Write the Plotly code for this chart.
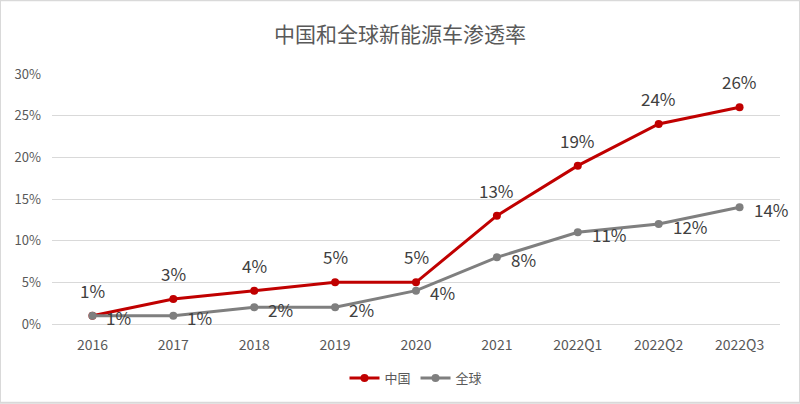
import plotly.graph_objects as go

categories = ["2016", "2017", "2018", "2019", "2020", "2021", "2022Q1", "2022Q2", "2022Q3"]
china = [0.01, 0.03, 0.04, 0.05, 0.05, 0.13, 0.19, 0.24, 0.26]
world = [0.01, 0.01, 0.02, 0.02, 0.04, 0.08, 0.11, 0.12, 0.14]
tick_vals = [0, 0.05, 0.10, 0.15, 0.20, 0.25, 0.30]
tick_text = ["0%", "5%", "10%", "15%", "20%", "25%", "30%"]

font_family = "Microsoft YaHei, Noto Sans CJK SC, sans-serif"
label_color = "#404040"

fig = go.Figure()
fig.add_trace(go.Scatter(
    x=categories, y=china, name="中国", mode="lines+markers",
    line=dict(color="#C00000", width=3), marker=dict(size=8, color="#C00000"),
    cliponaxis=False,
))
fig.add_trace(go.Scatter(
    x=categories, y=world, name="全球", mode="lines+markers",
    line=dict(color="#7F7F7F", width=3), marker=dict(size=8, color="#7F7F7F"),
    cliponaxis=False,
))

annotations = []
# category axis position = index of the category
for i, v in enumerate(china):
    annotations.append(dict(x=i, y=v, xref="x", yref="y", text=f"{round(v*100)}%",
                            showarrow=False, xanchor="center", yanchor="bottom", yshift=11,
                            font=dict(size=17, color=label_color, family=font_family)))
for i, v in enumerate(world):
    annotations.append(dict(x=i, y=v, xref="x", yref="y", text=f"{round(v*100)}%",
                            showarrow=False, xanchor="left", yanchor="middle", xshift=12, yshift=-2,
                            font=dict(size=17, color=label_color, family=font_family)))

fig.update_layout(
    width=800, height=404,
    paper_bgcolor="white", plot_bgcolor="white",
    margin=dict(l=52, r=20, t=74, b=79),
    title=dict(text="中国和全球新能源车渗透率", x=0.5, xanchor="center", y=0.915, yanchor="middle",
               font=dict(size=21, color="#595959", family=font_family)),
    font=dict(family=font_family, color="#595959"),
    showlegend=True,
    legend=dict(orientation="h", x=0.5, xanchor="center", y=-0.211, yanchor="middle",
                font=dict(size=13, color="#595959")),
    xaxis=dict(type="category", range=[-0.5, 8.5], showgrid=False, showline=True,
               linecolor="#D9D9D9", ticks="", tickfont=dict(size=14, color="#595959"),
               ticklabelstandoff=8),
    yaxis=dict(range=[0, 0.30], tickvals=tick_vals, ticktext=tick_text, showgrid=True,
               gridcolor="#D9D9D9", zeroline=False, showline=False, ticks="",
               tickfont=dict(size=13, color="#595959"), ticklabelstandoff=10),
    annotations=annotations,
    shapes=[dict(type="rect", xref="paper", yref="paper",
                 x0=-52/728, x1=1+20/728, y0=-79/251, y1=1+74/251,
                 line=dict(color="#D9D9D9", width=2))],
)

fig.write_html("out.html", config={"displayModeBar": False},
               post_script="document.body.style.margin='0';")
